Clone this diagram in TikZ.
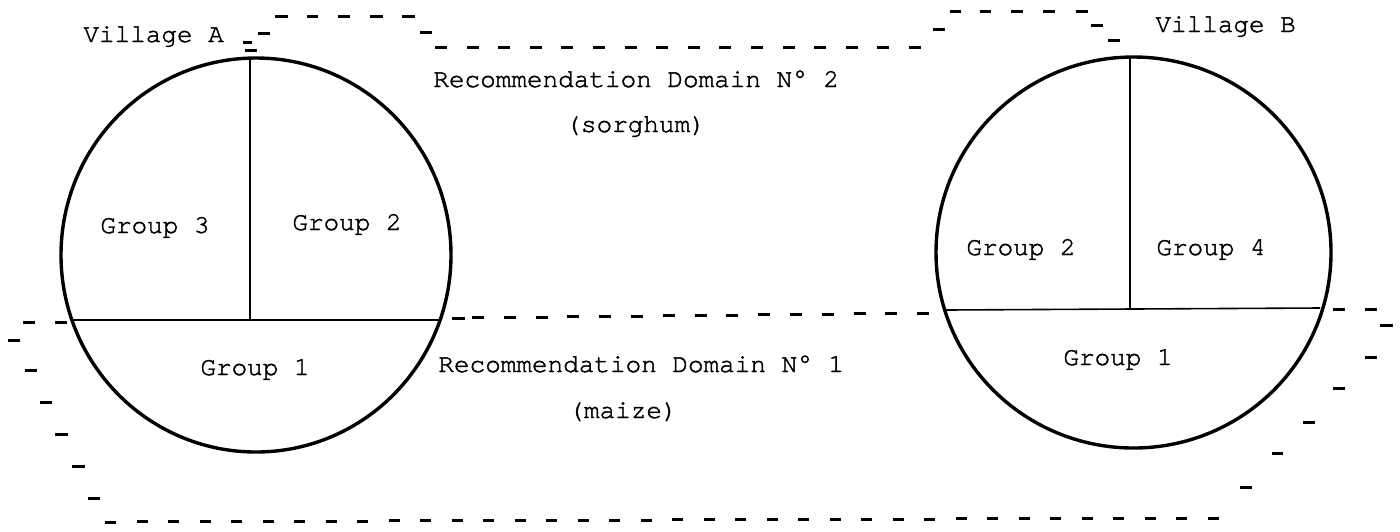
\documentclass[tikz,border=0pt]{standalone}
\usepackage{fontspec}
\setmonofont{texgyrecursor-regular.otf}[FakeBold=1.6]
\usetikzlibrary{shapes.geometric}
\begin{document}
\begin{tikzpicture}[x=0.5pt,y=-0.5pt,
  lbl/.style={font=\ttfamily\fontsize{13pt}{15pt}\selectfont, inner sep=0pt, anchor=base west},
  village/.style={draw, ellipse, line width=1.7pt, inner sep=0pt},
  divider/.style={line width=0.8pt},
  tick/.style={line width=1.5pt}]
\useasboundingbox (0,0) rectangle (1400,531);

% villages
\node[village, minimum width=195pt, minimum height=197pt] (circA) at (256,255) {};
\node[village, minimum width=197.5pt, minimum height=195.5pt] (circB) at (1133.5,252.5) {};

% dividers of village A
\coordinate (A-top) at (250,58);
\coordinate (A-mid) at (250,320);
\coordinate (A-left) at (71,320);
\coordinate (A-right) at (439,320);
\draw[divider] (A-top) -- (A-mid);
\draw[divider] (A-left) -- (A-right);

% dividers of village B
\coordinate (B-top) at (1130,57);
\coordinate (B-mid) at (1130,309);
\coordinate (B-left) at (946,310);
\coordinate (B-right) at (1320,308);
\draw[divider] (B-top) -- (B-mid);
\draw[divider] (B-left) -- (B-right);

% labels
\node[lbl] (villA) at (83,42) {Village A};
\node[lbl] (villB) at (1155,32) {Village B};
\node[lbl] (rd2) at (433,87) {Recommendation Domain N° 2};
\node[lbl] (sorg) at (565,132) {(sorghum)};
\node[lbl] (rd1) at (438,372) {Recommendation Domain N° 1};
\node[lbl] (maize) at (568,418) {(maize)};
\node[lbl] (a3) at (100,233) {Group 3};
\node[lbl] (a2) at (292,230) {Group 2};
\node[lbl] (a1) at (200,375) {Group 1};
\node[lbl] (b2) at (966,255) {Group 2};
\node[lbl] (b4) at (1156,255) {Group 4};
\node[lbl] (b1) at (1063,365) {Group 1};

% upper boundary of domain 2
\foreach \a/\b/\y in {243/252/42, 258/270/33, 245/257/50,
    275/288/16, 307/318/16, 338/350/16, 370/383/16, 402/415/16, 420/432/32,
    933/945/29, 950/961/11, 980/991/11, 1011/1023/11, 1043/1055/11, 1076/1088/11,
    1091/1103/25, 1108/1120/40}
  \draw[tick] (\a,\y) -- (\b,\y);
\foreach \i in {0,...,15}
  \draw[tick] ({435+31.6*\i},47) -- ({447+31.6*\i},47);

% boundary between domains
\foreach \a/\b/\y in {23/35/322, 55/67/322, 452/465/318, 1333/1345/309, 1365/1377/309}
  \draw[tick] (\a,\y) -- (\b,\y);
\foreach \i in {0,...,14}
  \draw[tick] ({472+31.8*\i},{318-(20+31.8*\i)*0.0105}) -- ({484+31.8*\i},{318-(20+31.8*\i)*0.0105});

% lower boundary of domain 1
\foreach \a/\b/\y in {8/20/340, 25/37/370, 40/52/402, 55/68/434, 72/85/466, 88/100/498,
    1380/1393/325, 1365/1377/357, 1333/1345/388, 1303/1315/422, 1272/1283/453, 1240/1252/487}
  \draw[tick] (\a,\y) -- (\b,\y);
\foreach \i in {0,...,35}
  \draw[tick] ({105+31.51*\i},{522-\i*4/35}) -- ({116+31.51*\i},{522-\i*4/35});
\end{tikzpicture}
\end{document}
